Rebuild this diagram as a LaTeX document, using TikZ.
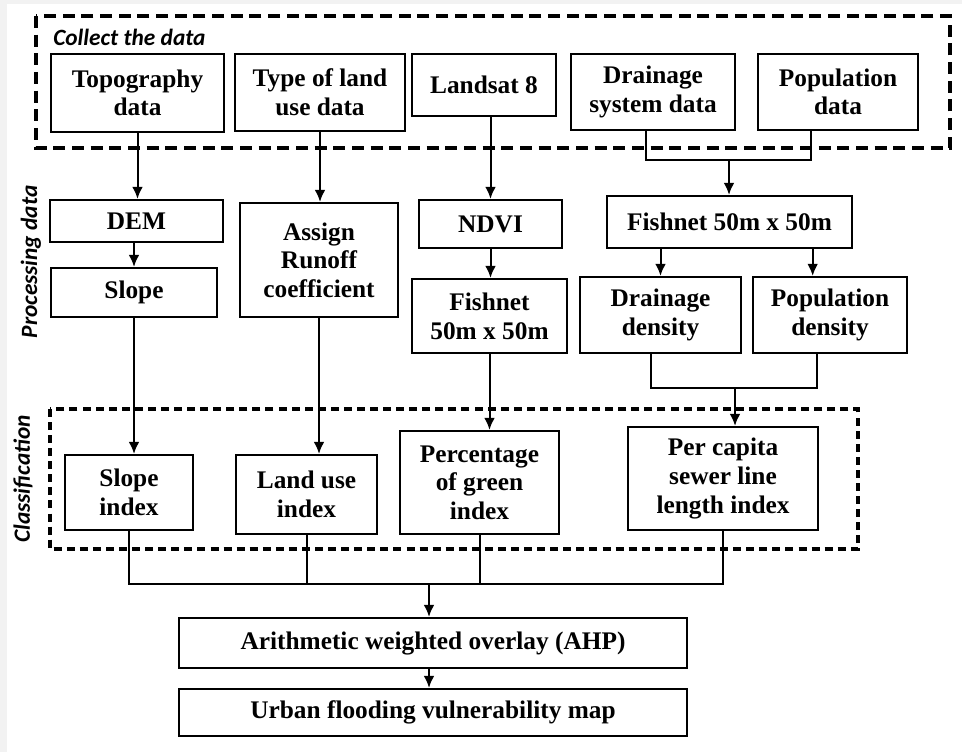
\documentclass[tikz,border=0pt]{standalone}
\usepackage{fontspec}
\setmainfont{Liberation Serif}
\newfontfamily\lblfont{Carlito}
\usepackage{tikz}
\usetikzlibrary{arrows.meta}
\usetikzlibrary{calc}
\tikzset{bx/.style 2 args={draw, line width=1.6pt, align=center, inner sep=0pt,
    font=\fontsize{19}{21.5}\selectfont\bfseries,
    minimum width=#1*0.75pt, minimum height=#2*0.75pt}}
\tikzset{lbl/.style={font=\fontsize{17.5}{17.5}\selectfont\lblfont\bfseries\itshape, inner sep=0pt}}
\tikzset{ln/.style={line width=1.5pt}}
\tikzset{arr/.style={ln, -{Latex[length=9pt,width=8pt]}}}
\tikzset{grp/.style={line width=2.5pt, dash pattern=on 9pt off 5pt}}
\tikzset{grpb/.style={line width=2.6pt, dash pattern=on 6pt off 3.8pt}}

\begin{document}
\begin{tikzpicture}[x=0.75pt, y=-0.75pt]
  \useasboundingbox (0,0) rectangle (962,752);
  \fill[black!5] (0,0) rectangle (962,752);
  \fill[white] (7,4) rectangle (962,752);

  % groups
  \draw[grp] (36,16) rectangle (950,148);
  \draw[grpb] (50,409) rectangle (858,549);
  \node[lbl, anchor=base west] (collect) at (53,46) {Collect the data};
  \node[lbl, rotate=90] (proc) at (31,262) {Processing data};
  \node[lbl, rotate=90] (classif) at (23,479) {Classification};

  % input data
  \node[bx={173}{78}] (topo) at (137.5,93) {Topography\\data};
  \node[bx={170}{77}] (tland) at (320,92.5) {Type of land\\use data};
  \node[bx={144}{62}] (landsat) at (484,85) {Landsat 8};
  \node[bx={164}{76}] (drain) at (653,92) {Drainage\\system data};
  \node[bx={160}{76}] (pop) at (838,92) {Population\\data};

  % processing
  \node[bx={173}{42}] (dem) at (136.5,221) {DEM};
  \node[bx={166}{49}] (slope) at (134,292.5) {Slope};
  \node[bx={158}{114}] (assign) at (319,260) {Assign\\Runoff\\coefficient};
  \node[bx={143}{48}] (ndvi) at (490.5,224) {NDVI};
  \node[bx={155}{74}] (fish1) at (489.5,316) {Fishnet\\50m x 50m};
  \node[bx={245}{52}] (fish2) at (729.5,222) {Fishnet 50m x 50m};
  \node[bx={161}{76}] (ddens) at (660.5,315) {Drainage\\density};
  \node[bx={154}{76}] (pdens) at (830,315) {Population\\density};

  % classification
  \node[bx={128}{75}] (sidx) at (129,492.5) {Slope\\index};
  \node[bx={141}{79}] (lidx) at (306.5,494.5) {Land use\\index};
  \node[bx={159}{103}] (gidx) at (479.5,482.5) {Percentage\\of green\\index};
  \node[bx={190}{103}] (percap) at (723,478.5) {Per capita\\sewer line\\length index};

  % result
  \node[bx={508}{50}] (ahp) at (433,643) {Arithmetic weighted overlay (AHP)};
  \node[bx={508}{47}] (urban) at (433,712.5) {Urban flooding vulnerability map};

  % join points
  \coordinate (jd) at (646,160);
  \coordinate (jp) at (811,160);
  \coordinate (jtop) at (729,160);
  \coordinate (jdd) at (651,388);
  \coordinate (jpd) at (817,388);
  \coordinate (jmid) at (735,388);
  \coordinate (jb) at (429,584);

  \draw[arr] (topo.south) -- (topo.south |- dem.north);
  \draw[arr] (dem.south -| slope.north) -- (slope.north);
  \draw[arr] (tland.south) -- (tland.south |- assign.north);
  \draw[arr] (landsat.south -| ndvi.north) -- (ndvi.north);
  \draw[arr] (ndvi.south) -- (ndvi.south |- fish1.north);
  \draw[ln] (drain.south -| jd) -- (jd) -- (jp) -- (pop.south -| jp);
  \draw[arr] (jtop) -- (jtop |- fish2.north);
  \draw[arr] (fish2.south -| ddens.north) -- (ddens.north);
  \draw[arr] ([xshift=-13pt]pdens.north |- fish2.south) -- ([xshift=-13pt]pdens.north);
  \draw[ln] (ddens.south -| jdd) -- (jdd) -- (jpd) -- (pdens.south -| jpd);
  \draw[arr] (jmid) -- (jmid |- percap.north);

  \draw[arr] (slope.south) -- (slope.south |- sidx.north);
  \draw[arr] (assign.south) -- (assign.south |- lidx.north);
  \draw[arr] (fish1.south) -- (fish1.south |- gidx.north);

  \draw[ln] (sidx.south) |- (percap.south |- jb) -- (percap.south);
  \draw[ln] (lidx.south) -- (lidx.south |- jb);
  \draw[ln] (gidx.south) -- (gidx.south |- jb);
  \draw[arr] (jb) -- (jb |- ahp.north);
  \draw[arr] (ahp.south -| jb) -- (jb |- urban.north);
\end{tikzpicture}
\end{document}
